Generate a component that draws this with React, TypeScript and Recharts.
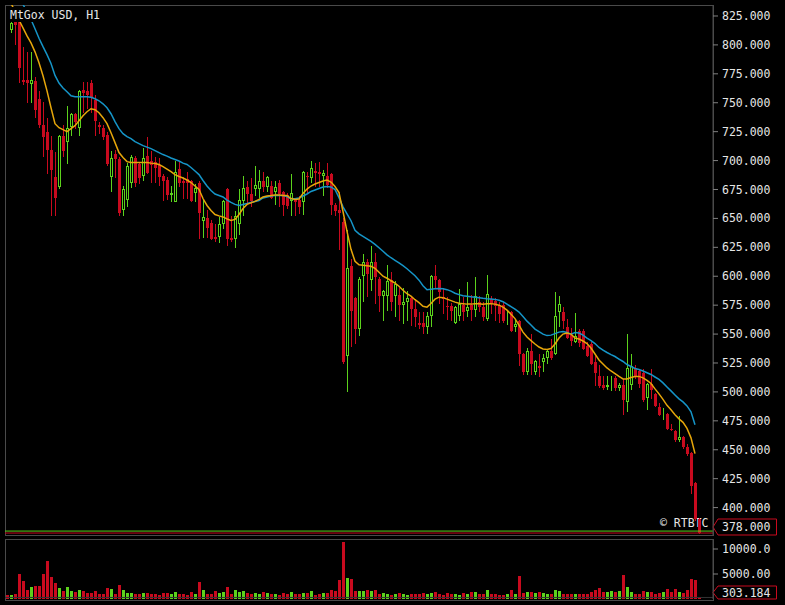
// App.tsx
import React from "react";
import { ComposedChart, BarChart, Bar, Line, XAxis, YAxis, ReferenceLine } from "recharts";

const RED = "#c80a1e";
const GREEN = "#5cd21c";
const YELLOW = "#e6a60a";
const CYAN = "#1595c8";
const FRAME = "#4a4a4a";
const TEXT = "#e6e6e6";
const FONT = "'DejaVu Sans Mono', monospace";

// MtGox USD, H1 candles (oldest first)
const opens = [
  842, 813, 821, 821, 770, 770, 766, 769, 753, 731,
  725, 709, 686, 677, 721, 716, 729, 740, 728, 761,
  760, 767, 752, 731, 728, 722, 686, 706, 701, 657,
  666, 681, 702, 697, 687, 704, 700, 699, 696, 687,
  683, 670, 664, 693, 682, 684, 682, 672, 681, 648,
  650, 646, 634, 634, 645, 675, 633, 632, 645, 665,
  677, 671, 675, 675, 682, 677, 678, 673, 681, 673,
  670, 665, 666, 666, 664, 687, 685, 691, 690, 687,
  687, 688, 662, 657, 647, 531, 609, 581, 554, 600,
  612, 597, 612, 598, 583, 583, 597, 583, 584, 575,
  578, 581, 572, 560, 560, 556, 566, 600, 597, 582,
  574, 574, 560, 566, 575, 570, 575, 571, 578, 573,
  563, 580, 579, 575, 575, 561, 569, 556, 561, 533,
  517, 535, 517, 522, 526, 529, 535, 533, 569, 569,
  556, 549, 543, 553, 553, 540, 541, 526, 514, 506,
  504, 512, 512, 503, 506, 491, 506, 521, 518, 516,
  495, 507, 498, 487, 481, 481, 468, 466, 458, 461,
  452, 447, 421, 390,
];
const highs = [
  848, 820, 826, 826, 798, 794, 794, 772, 760, 751,
  737, 721, 707, 722, 731, 747, 741, 741, 761, 768,
  768, 770, 757, 733, 731, 725, 708, 709, 703, 678,
  698, 705, 704, 699, 711, 720, 708, 703, 702, 688,
  686, 678, 700, 700, 686, 690, 683, 680, 682, 666,
  657, 649, 645, 651, 666, 676, 652, 656, 675, 687,
  682, 685, 695, 692, 690, 687, 682, 682, 683, 674,
  672, 688, 668, 669, 691, 690, 700, 698, 699, 692,
  698, 689, 663, 673, 650, 640, 615, 582, 599, 619,
  615, 626, 620, 599, 588, 610, 604, 596, 590, 590,
  587, 582, 580, 569, 569, 569, 601, 610, 598, 590,
  582, 577, 574, 589, 582, 595, 584, 599, 583, 578,
  601, 583, 581, 578, 578, 570, 570, 563, 562, 534,
  538, 550, 528, 533, 533, 537, 546, 586, 583, 573,
  563, 555, 568, 554, 554, 543, 543, 531, 523, 514,
  514, 514, 514, 508, 511, 550, 533, 523, 520, 520,
  508, 520, 499, 490, 486, 482, 472, 467, 479, 462,
  455, 448, 422, 391,
];
const lows = [
  835, 810, 800, 767, 765, 750, 750, 737, 728, 703,
  688, 652, 652, 675, 703, 697, 721, 727, 721, 741,
  745, 741, 721, 723, 718, 695, 673, 685, 652, 652,
  660, 676, 677, 680, 682, 688, 681, 681, 678, 665,
  666, 664, 664, 677, 667, 667, 664, 664, 632, 633,
  633, 631, 630, 629, 641, 626, 630, 624, 636, 652,
  662, 660, 669, 668, 673, 673, 667, 662, 660, 652,
  658, 652, 652, 654, 653, 672, 681, 677, 677, 669,
  676, 653, 652, 623, 524, 500, 539, 541, 548, 578,
  582, 587, 576, 569, 561, 570, 570, 565, 561, 559,
  561, 557, 556, 554, 550, 550, 556, 590, 576, 567,
  562, 561, 559, 561, 561, 565, 561, 565, 569, 561,
  561, 567, 561, 560, 560, 558, 552, 552, 522, 515,
  515, 515, 515, 513, 517, 524, 528, 532, 556, 554,
  546, 540, 542, 539, 536, 530, 523, 505, 503, 502,
  502, 501, 501, 501, 480, 483, 502, 511, 503, 491,
  484, 494, 487, 479, 476, 467, 466, 457, 457, 451,
  445, 412, 388, 377,
];
const closes = [
  838, 819, 817, 780, 768, 767, 770, 744, 731, 720,
  709, 692, 668, 721, 708, 728, 740, 733, 760, 758,
  757, 754, 734, 729, 720, 697, 702, 701, 655, 675,
  695, 703, 681, 685, 702, 689, 696, 694, 686, 682,
  670, 672, 690, 681, 681, 681, 665, 676, 655, 651,
  642, 632, 632, 645, 665, 632, 631, 652, 666, 676,
  671, 665, 679, 682, 677, 686, 668, 677, 671, 662,
  661, 672, 664, 660, 690, 686, 694, 689, 688, 689,
  679, 662, 656, 655, 526, 607, 570, 554, 598, 612,
  602, 612, 599, 583, 587, 596, 578, 593, 575, 578,
  581, 572, 565, 558, 556, 566, 600, 597, 586, 580,
  573, 570, 573, 576, 569, 573, 571, 583, 573, 565,
  585, 576, 574, 567, 561, 562, 553, 559, 533, 517,
  535, 524, 527, 521, 529, 535, 529, 566, 576, 561,
  547, 544, 548, 542, 537, 531, 524, 516, 505, 503,
  506, 513, 503, 506, 493, 521, 522, 513, 507, 493,
  507, 502, 488, 480, 482, 468, 467, 458, 461, 452,
  446, 419, 390, 378,
];
const volumes = [
  800, 800, 1000, 5000, 3600, 1800, 2400, 2600, 2600, 5000,
  7600, 4400, 3200, 2200, 1600, 2400, 1600, 1400, 1800, 1600,
  1200, 1200, 1600, 1000, 1000, 2200, 2000, 1000, 2800, 1800,
  1200, 1200, 1000, 1000, 1200, 1200, 1000, 1000, 800, 1200,
  1200, 1000, 1400, 1000, 1000, 800, 1400, 1000, 3400, 1800,
  1000, 1000, 1600, 1200, 1400, 2400, 1000, 1800, 1400, 1600,
  1200, 1000, 1200, 1000, 1400, 1200, 1000, 1000, 800, 1200,
  1000, 1400, 1000, 1000, 1200, 1200, 1600, 800, 1000, 1200,
  1200, 1800, 1600, 3800, 11400, 4200, 4000, 1600, 1600, 1600,
  1800, 1600, 1800, 1000, 1200, 1000, 800, 1000, 1200, 1000,
  800, 1000, 1000, 1000, 1200, 1000, 1200, 1400, 1000, 800,
  1200, 1000, 1000, 800, 1200, 1000, 1400, 1400, 1000, 1000,
  1800, 1000, 1000, 800, 800, 1000, 1800, 1000, 4600, 1200,
  1400, 1400, 1200, 1400, 1200, 1000, 1000, 1800, 1600, 1000,
  1000, 1000, 1000, 1000, 1000, 1000, 1400, 1800, 2200, 1400,
  1400, 1600, 1400, 1600, 4800, 2400, 1400, 1000, 1000, 1600,
  1400, 1400, 1000, 1200, 1400, 2000, 1400, 2000, 1400, 1200,
  1800, 4000, 3800, 303.184,
];
// moving averages as drawn on the chart
const fastMA = [
  845, 836, 829, 821.5, 814.7, 807.8, 801.7, 794, 784.5, 773.3,
  760.3, 745.7, 731.9, 728.4, 726.7, 725, 727.6, 730.2, 734.5, 738.8,
  742.2, 744.8, 744, 741.4, 737.1, 731.9, 724.1, 715.5, 706.9, 702.6,
  699.1, 698.3, 698.3, 698.3, 698.3, 698.3, 697.8, 697.4, 696.6, 694.8,
  692.7, 690.5, 687.9, 686.2, 684.9, 683.2, 681, 678, 675, 667.2,
  661.2, 656.9, 653.4, 652.2, 651.3, 649.6, 648.3, 649.1, 653.4, 658.6,
  662.1, 663.4, 664.7, 666.4, 668.5, 669.4, 669.8, 670.3, 670.3, 669.8,
  669.8, 667.2, 666.4, 666.8, 671.6, 675.4, 678, 679.7, 681, 682.3,
  683.2, 681.4, 677.6, 672.4, 656, 638.8, 623.3, 612.9, 609.9, 609.5,
  609.1, 608.6, 606.9, 603.4, 600, 598.3, 596.1, 594, 591.4, 587.9,
  584.9, 582.8, 579.7, 577.2, 574.1, 573.3, 576.4, 580.2, 581.9, 581.5,
  580.2, 578.9, 577.6, 576.7, 576.3, 575.9, 575.9, 576.3, 576.3, 575.9,
  576.3, 576.3, 575.9, 575, 573.3, 570.7, 567.2, 563.4, 557.8, 551.7,
  547.4, 544.4, 541.4, 538.8, 537.1, 536.6, 537.5, 541.4, 546.6, 550,
  550.9, 550, 546.6, 545.7, 544, 541.8, 537.9, 532.8, 527.6, 524.1,
  520.7, 518.1, 515.9, 513.4, 511.2, 511.2, 512.5, 513.4, 513.4, 512.1,
  509.9, 507.3, 502.6, 498.3, 493.5, 488.4, 484.5, 480.2, 476.7, 473.7,
  468.5, 460.3, 446.6, null,
];
const slowMA = [
  null, null, 848, 841.6, 835, 828.5, 822, 813.9, 805.8, 798.5,
  791.6, 784, 773.6, 767, 762.7, 759.5, 756, 755.2, 755.2, 755.2,
  755.2, 754.7, 753.4, 751.7, 749.1, 745.7, 740.5, 733.6, 727.6, 723.3,
  720.7, 719, 716.4, 714.7, 712.9, 711.6, 710.3, 708.6, 706.9, 705.2,
  703.9, 702.2, 700.9, 699.6, 697.8, 696.6, 694, 691, 687.9, 682.8,
  678, 674.1, 671.1, 669.8, 668.5, 665.9, 663.8, 662.1, 661.2, 662.1,
  662.9, 663.8, 664.7, 665.5, 667.7, 668.5, 669.4, 669.8, 669.8, 669.8,
  668.9, 667, 667, 667.7, 669.4, 671.1, 673.3, 674.6, 675.9, 677.2,
  677.6, 677.2, 675, 668, 660, 654, 648, 639.7, 636.6, 634.5,
  632.3, 630.2, 627.6, 624.6, 621.6, 618.5, 616, 613.8, 611.6, 609.1,
  606.5, 603.4, 600.4, 596.6, 591.8, 588.4, 588.8, 589.2, 589.4, 589.2,
  588.4, 587.1, 585.3, 584.1, 583.2, 582.8, 582.3, 581.9, 581.5, 581,
  580.6, 580.3, 580, 579.3, 578, 575.9, 573.7, 571.6, 569, 565.1,
  561.2, 557.8, 554.3, 552.2, 550, 548.7, 549.1, 550.4, 551.7, 552.2,
  551.3, 550, 551.3, 550.9, 549.1, 546.6, 544.4, 541.8, 538.4, 536.2,
  534.1, 532.3, 530.6, 528.4, 526.3, 523.7, 522, 520.3, 519.4, 518.1,
  516.6, 515.1, 512.9, 510.8, 507.8, 504.3, 500.9, 497.4, 494, 491.4,
  487.9, 482.8, 471.6, null,
];

const priceTicks = [400, 425, 450, 475, 500, 525, 550, 575, 600, 625, 650, 675, 700, 725, 750, 775, 800, 825];
const volumeTicks = [5000, 10000];
const lastPrice = 378;
const askPrice = 379.7;
const lastVolume = 303.184;

const data = opens.map((open, i) => ({
  idx: i,
  open,
  high: highs[i],
  low: lows[i],
  close: closes[i],
  range: [lows[i], highs[i]],
  volume: volumes[i],
  fast: fastMA[i],
  slow: slowMA[i],
}));

const fmt = (v: number) => Number(v).toPrecision(6);

const Candle = (props: any) => {
  const { x, y, height, payload } = props;
  if (!payload || height == null || isNaN(y)) return null;
  const { open, close, high, low } = payload;
  const top = Math.min(y, y + height);
  const ratio = Math.abs(height) / (high - low);
  const yOf = (v: number) => top + (high - v) * ratio;
  const up = close >= open;
  const color = up ? GREEN : RED;
  const x0 = Math.floor(x);
  const wTop = Math.round(yOf(high));
  const wBot = Math.round(yOf(low));
  const bTop = Math.round(yOf(Math.max(open, close)));
  const bBot = Math.max(Math.round(yOf(Math.min(open, close))), bTop + 1);
  return (
    <g>
      {/* wick */}
      <rect x={x0 + 1} y={wTop} width={1} height={Math.max(wBot - wTop, 1)} fill={color} />
      {up ? (
        <rect x={x0 + 0.5} y={bTop + 0.5} width={2} height={Math.max(bBot - bTop - 1, 0)} fill="#000" stroke={color} strokeWidth={1} />
      ) : (
        <rect x={x0} y={bTop} width={3} height={bBot - bTop} fill={color} />
      )}
    </g>
  );
};

const VolumeBar = (props: any) => {
  const { x, y, height, payload } = props;
  if (!payload || isNaN(y)) return null;
  const up = payload.close >= payload.open;
  const top = Math.round(y);
  const bottom = Math.round(y + height);
  return <rect x={Math.floor(x)} y={top} width={3} height={Math.max(bottom - top, 1)} fill={up ? GREEN : RED} />;
};

// value tag on the right axis, pinned inside the panel
const ValueTag = ({ viewBox, text, maxY, half }: any) => {
  if (!viewBox) return null;
  const ax = viewBox.x + viewBox.width;
  const cy = Math.min(viewBox.y, maxY);
  const pts = `${ax},${cy} ${ax + 5},${cy - half} ${ax + 63.5},${cy - half} ${ax + 63.5},${cy + half} ${ax + 5},${cy + half}`;
  return (
    <g>
      <polygon points={pts} fill="#000" stroke={RED} strokeWidth={1} />
      <text x={ax + 9} y={cy} dy="0.355em" fill={TEXT} fontSize={11.5} fontFamily={FONT}>
        {text}
      </text>
    </g>
  );
};

const axisTick = { fill: TEXT, fontSize: 11.5, fontFamily: FONT };

export default function App() {
  return (
    <div style={{ position: "absolute", left: 0, top: 0, width: 785, height: 605, background: "#000", overflow: "hidden" }}>
      <div style={{ position: "absolute", left: 5, top: 5, width: 709, height: 531, boxSizing: "border-box", border: `1px solid ${FRAME}` }} />
      <div style={{ position: "absolute", left: 5, top: 539, width: 709, height: 62, boxSizing: "border-box", border: `1px solid ${FRAME}` }} />
      <div style={{ position: "absolute", left: 660, top: 516, color: TEXT, font: `11.5px ${FONT}`, lineHeight: "14px", whiteSpace: "pre" }}>
        © RTBTC
      </div>

      <div style={{ position: "absolute", left: 0, top: 0 }}>
        <ComposedChart width={785} height={540} data={data} margin={{ top: 5, right: 0, bottom: 5, left: 5 }}>
          <XAxis dataKey="idx" hide padding={{ left: 0, right: 12 }} />
          <YAxis
            orientation="right"
            width={72}
            domain={[376.3, 834.5]}
            allowDataOverflow
            ticks={priceTicks}
            interval={0}
            tickFormatter={fmt}
            tick={axisTick}
            tickLine={{ stroke: "#808080" }}
            axisLine={{ stroke: FRAME }}
            tickSize={5}
            tickMargin={4}
          />
          <ReferenceLine y={askPrice} stroke={GREEN} strokeWidth={1} />
          <ReferenceLine
            y={lastPrice}
            stroke={RED}
            strokeWidth={1}
            label={<ValueTag text={fmt(lastPrice)} maxY={527} half={8} />}
          />
          <Bar dataKey="range" barSize={3} isAnimationActive={false} shape={(p: any) => <Candle {...p} />} />
          <Line dataKey="slow" type="linear" stroke={CYAN} strokeWidth={1.5} dot={false} activeDot={false} isAnimationActive={false} />
          <Line dataKey="fast" type="linear" stroke={YELLOW} strokeWidth={1.5} dot={false} activeDot={false} isAnimationActive={false} />
        </ComposedChart>
      </div>

      <div style={{ position: "absolute", left: 0, top: 537 }}>
        <BarChart width={785} height={66} data={data} margin={{ top: 2, right: 0, bottom: 4, left: 5 }}>
          <XAxis dataKey="idx" hide padding={{ left: 0, right: 12 }} />
          <YAxis
            orientation="right"
            width={72}
            domain={[0, 12000]}
            ticks={volumeTicks}
            interval={0}
            tickFormatter={fmt}
            tick={axisTick}
            tickLine={{ stroke: "#808080" }}
            axisLine={{ stroke: FRAME }}
            tickSize={5}
            tickMargin={4}
          />
          <ReferenceLine
            y={lastVolume}
            stroke="#333"
            strokeWidth={1}
            label={<ValueTag text={fmt(lastVolume)} maxY={55.5} half={6.5} />}
          />
          <Bar dataKey="volume" barSize={3} isAnimationActive={false} shape={(p: any) => <VolumeBar {...p} />} />
        </BarChart>
      </div>

      <div style={{ position: "absolute", left: 8, top: 7, padding: "0 2px", height: 15, background: "#000", color: TEXT, font: `11.5px ${FONT}`, lineHeight: "16px", whiteSpace: "pre" }}>
        MtGox USD, H1
      </div>
    </div>
  );
}
